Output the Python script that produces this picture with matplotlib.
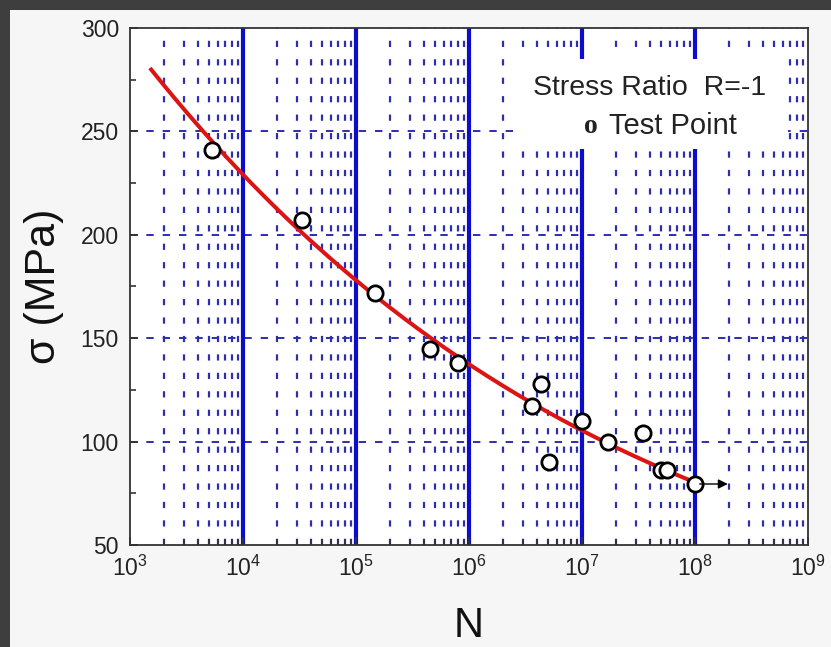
import numpy as np
import matplotlib
matplotlib.use("Agg")
import matplotlib.pyplot as plt
from matplotlib.patches import Rectangle
from matplotlib.ticker import LogLocator, MultipleLocator, FixedLocator

plt.rcParams['font.family'] = ['Liberation Sans', 'DejaVu Sans']
plt.rcParams['mathtext.fontset'] = 'custom'
plt.rcParams['mathtext.rm'] = 'Liberation Sans'
plt.rcParams['mathtext.it'] = 'Liberation Sans'

# Fatigue test results (cycles to failure, stress amplitude)
cycles = [5.3e3, 3.3e4, 1.47e5, 4.5e5, 8.0e5, 3.6e6, 4.34e6, 5.1e6,
          1.0e7, 1.7e7, 3.47e7, 5.0e7, 5.65e7, 1.0e8]
stress = [241, 207, 172, 145, 138, 117, 128, 90,
          110, 100, 104, 86.5, 86.5, 79.5]

# Run-out specimen (did not fail)
runout_cycles = 1.0e8
runout_stress = 79.5

# S-N fitted curve read at each decade
curve_cycles = [1.5e3, 1e4, 1e5, 1e6, 1e7, 1e8]
curve_stress = [282, 227.5, 179, 135, 108, 79.5]

W, H = 831, 647
fig = plt.figure(figsize=(W / 100, H / 100), dpi=100, facecolor='#3e3e3e')
fig.patches.append(Rectangle((10 / W, 0), 1 - 10 / W, 1 - 10 / H,
                             transform=fig.transFigure, facecolor='#f6f6f6',
                             edgecolor='none', zorder=-10))

ax = fig.add_axes([130 / W, 1 - 545 / H, 678 / W, 517 / H])
ax.set_zorder(1)
ax.set_facecolor('white')
ax.set_xscale('log')
ax.set_xlim(1e3, 1e9)
ax.set_ylim(50, 300)

blue_dash = '#2e2eb0'
# minor vertical grid
minor_x = [m * 10.0 ** d for d in range(3, 9) for m in range(2, 10)]
for xv in minor_x:
    ax.axvline(xv, color=blue_dash, lw=1.6, ls=(0, (2.8, 5.5)), zorder=1)
# horizontal grid
for yv in [100, 150, 200, 250]:
    ax.axhline(yv, color=blue_dash, lw=1.4, ls=(0, (3.8, 4.6)), zorder=1)
# major vertical grid
for d in range(4, 9):
    ax.axvline(10.0 ** d, color='#0c0ccc', lw=3.0, zorder=1.5)

# legend-like text box
ax.add_patch(Rectangle((0.575, 0.765), 0.395, 0.175, transform=ax.transAxes,
                       facecolor='white', edgecolor='none', zorder=2))
ax.text(0.766, 0.883, 'Stress Ratio  R=-1', transform=ax.transAxes,
        fontsize=20.5, ha='center', va='center', color='#222222', zorder=3)
ax.text(0.680, 0.810, 'o', transform=ax.transAxes, family='Liberation Serif',
        fontsize=20, fontweight='bold', ha='center', va='center',
        color='#222222', zorder=3)
ax.text(0.706, 0.810, 'Test Point', transform=ax.transAxes,
        fontsize=21, ha='left', va='center', color='#222222', zorder=3)

# fitted power-law curve
logc = np.log10(curve_cycles)
logs = np.log10(curve_stress)
p = np.polyfit(logc, logs, 2)
xx = np.logspace(logc[0], logc[-1], 300)
ax.plot(xx, 10 ** np.polyval(p, np.log10(xx)), color='#dd1414', lw=2.9,
        zorder=4, solid_capstyle='butt')

ax.plot(cycles, stress, 'o', ms=11, mfc='white', mec='black', mew=2.0,
        zorder=5)

ax.annotate('', xy=(runout_cycles * 1.95, runout_stress),
            xytext=(runout_cycles * 1.1, runout_stress),
            arrowprops=dict(arrowstyle='-|>', color='black', lw=1.0,
                            mutation_scale=14, shrinkA=0, shrinkB=0),
            zorder=6)

# axes styling
for s in ax.spines.values():
    s.set_color('#333333')
    s.set_linewidth(1.3)
    s.set_zorder(7)
ax.xaxis.set_major_locator(LogLocator(base=10, numticks=10))
ax.xaxis.set_minor_locator(FixedLocator(minor_x))
ax.yaxis.set_major_locator(MultipleLocator(50))
ax.yaxis.set_minor_locator(MultipleLocator(25))
ax.tick_params(which='both', direction='in', top=False, right=False,
               colors='#333333', labelcolor='#222222', labelsize=16.5)
ax.tick_params(which='major', length=6, width=1.3, pad=8)
ax.tick_params(which='minor', length=4, width=1.2)
ax.tick_params(axis='x', which='major', pad=8)

ax.set_xlabel('N', fontsize=30, color='#111111', labelpad=18)
ax.set_ylabel('σ (MPa)', fontsize=31, color='#111111', labelpad=12)

fig.savefig('out.png', dpi=100, facecolor=fig.get_facecolor())
